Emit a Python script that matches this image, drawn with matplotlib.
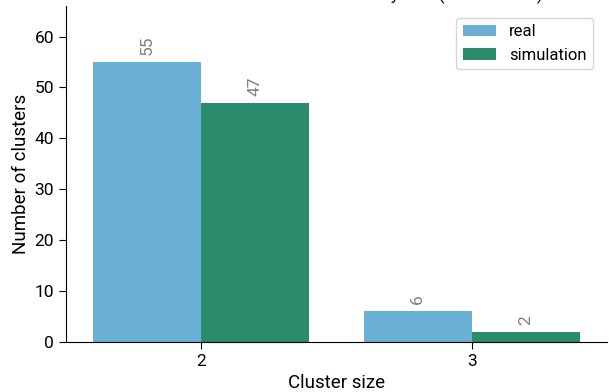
import matplotlib
matplotlib.use("Agg")
import matplotlib.pyplot as plt
import numpy as np

plt.rcParams['font.family'] = ['Roboto', 'DejaVu Sans']

categories = ["2", "3"]
series_names = ["real", "simulation"]
real_values = [55, 6]
sim_values = [47, 2]
colors = ["#6aafd4", "#2b8c6d"]
title_text = "Number of clusters by size (real vs. sim.)"

fig = plt.figure(figsize=(6.09, 3.92), dpi=100)
ax = fig.add_axes([0.108, 0.1276, 0.889, 0.857])

x = np.arange(len(categories))
w = 0.4
bars_r = ax.bar(x - w/2, real_values, width=w, color=colors[0], label=series_names[0])
bars_s = ax.bar(x + w/2, sim_values, width=w, color=colors[1], label=series_names[1])

for bars, vals in ((bars_r, real_values), (bars_s, sim_values)):
    for b, v in zip(bars, vals):
        ax.annotate(str(v), (b.get_x() + b.get_width()/2, b.get_height()),
                    xytext=(0, 5), textcoords="offset points",
                    ha="center", va="bottom", rotation=90,
                    color="#808080", fontsize=12.5)

ax.set_xlim(-0.5, 1.5)
ax.set_ylim(0, 66)
ax.set_xticks(x)
ax.set_xticklabels(categories)
ax.set_yticks([0, 10, 20, 30, 40, 50, 60])
ax.tick_params(labelsize=12.5, length=5)
ax.set_xlabel("Cluster size", fontsize=13.5)
ax.set_ylabel("Number of clusters", fontsize=13.5, labelpad=3)
ax.spines['top'].set_visible(False)
ax.spines['right'].set_visible(False)

ax.legend(loc="upper right", fontsize=12, frameon=True, bbox_to_anchor=(0.99, 0.99))

fig.text(543 / 609, 1.0, title_text, ha="right", va="baseline", fontsize=12.5)

fig.savefig("out.png", dpi=100)
